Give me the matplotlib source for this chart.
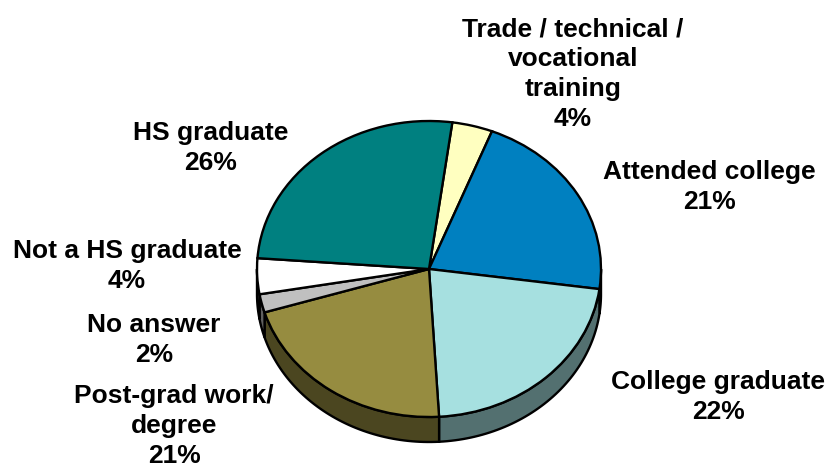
import numpy as np
import matplotlib
matplotlib.use('Agg')
import matplotlib.pyplot as plt
from matplotlib.colors import to_rgb

plt.rcParams['font.family'] = ['Liberation Sans', 'DejaVu Sans']

names = ['Trade / technical /\nvocational\ntraining', 'Attended college', 'College graduate',
         'Post-grad work/\ndegree', 'No answer', 'Not a HS graduate', 'HS graduate']
values = [3.8, 21.2, 21.9, 21.2, 2.0, 3.9, 26.0]
colors = ['#FFFFC0', '#0080C0', '#A6E0E0', '#968C40', '#C0C0C0', '#FFFFFF', '#008080']
label_px = [(573, 74), (709, 187), (718, 397), (174, 426), (154, 340), (127, 266), (211, 148)]

W, H = 830, 471
cx, cy, rx, ry, depth = 429, 269, 172, 148, 25
start_angle = 82.2

fig = plt.figure(figsize=(W / 100, H / 100), dpi=100)
ax = fig.add_axes([0, 0, 1, 1])

# pie drawn clockwise, the axes limits squash it into an ellipse
ax.pie(values, colors=colors, startangle=start_angle, counterclock=False, radius=1,
       wedgeprops={'edgecolor': 'black', 'linewidth': 1.7, 'zorder': 3})
ax.set_aspect('auto')
ax.set_xlim(-cx / rx, (W - cx) / rx)
ax.set_ylim(-(H - cy) / ry, cy / ry)

# side wall of the tilted pie, only the lower half of the ellipse shows
d = depth / ry
edges = start_angle - np.cumsum([0] + values) * 3.6
for i, col in enumerate(colors):
    hi, lo = edges[i], edges[i + 1]
    for a, b in [(lo, hi), (lo + 360, hi + 360), (lo - 360, hi - 360)]:
        a2, b2 = max(a, -180), min(b, 0)
        if a2 >= b2:
            continue
        t = np.radians(np.linspace(a2, b2, 60))
        xs = np.r_[np.cos(t), np.cos(t)[::-1]]
        ys = np.r_[np.sin(t), np.sin(t)[::-1] - d]
        ax.fill(xs, ys, facecolor=np.array(to_rgb(col)) * 0.5, edgecolor='black',
                linewidth=1.7, zorder=2)

for name, val, (px, py) in zip(names, values, label_px):
    fig.text(px / W, 1 - py / H, f'{name}\n{val:.0f}%', ha='center', va='center',
             fontsize=19, fontweight='bold', linespacing=1.3, color='black')

fig.savefig('out.png', dpi=100)
